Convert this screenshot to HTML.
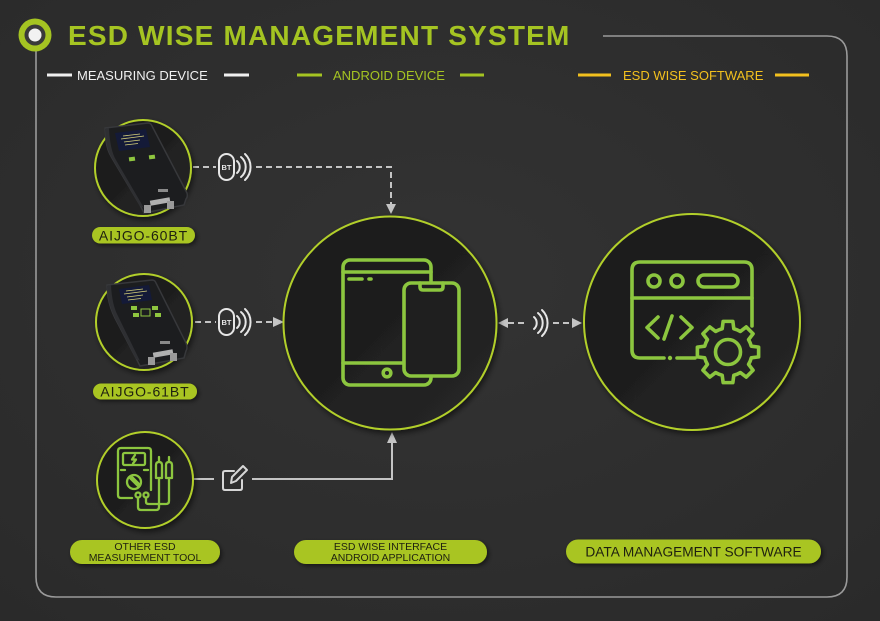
<!DOCTYPE html>
<html><head><meta charset="utf-8"><style>
html,body{margin:0;padding:0;background:#2f2f2f;}
svg{display:block;}
text{font-family:"Liberation Sans",sans-serif;}
</style></head><body>
<svg width="880" height="621" viewBox="0 0 880 621" xmlns="http://www.w3.org/2000/svg">
<defs>
<radialGradient id="bg" cx="0.5" cy="0.45" r="0.75">
<stop offset="0" stop-color="#333333"/><stop offset="1" stop-color="#2a2a2a"/>
</radialGradient>
<linearGradient id="cf" x1="0" y1="0" x2="1" y2="1">
<stop offset="0" stop-color="#191919"/><stop offset="0.5" stop-color="#1f1f1f"/><stop offset="1" stop-color="#282828"/>
</linearGradient>
<filter id="sh" x="-30%" y="-30%" width="160%" height="160%">
<feDropShadow dx="2" dy="3" stdDeviation="3" flood-color="#000" flood-opacity="0.55"/>
</filter>
<filter id="psh" x="-10%" y="-40%" width="120%" height="180%">
<feDropShadow dx="2" dy="2" stdDeviation="2" flood-color="#000" flood-opacity="0.5"/>
</filter>
</defs>
<rect width="880" height="621" fill="url(#bg)"/>

<!-- frame -->
<path d="M603,36 L827,36 Q847,36 847,56 L847,577 Q847,597 827,597 L56,597 Q36,597 36,577 L36,50" fill="none" stroke="#9a9a9a" stroke-width="1.6"/>

<!-- logo -->
<circle cx="35" cy="35" r="16.5" fill="#a5c422"/>
<circle cx="35" cy="35" r="10.5" fill="#3a3a3a"/>
<circle cx="35" cy="35" r="6.5" fill="#f2f2f2"/>

<!-- title -->
<text x="68" y="45" font-size="28" font-weight="bold" fill="#a5c422" letter-spacing="1.2">ESD WISE MANAGEMENT SYSTEM</text>

<!-- legend -->
<rect x="47" y="73.5" width="25" height="3" fill="#f0f0f0"/>
<text x="77" y="80" font-size="13" fill="#f0f0f0">MEASURING DEVICE</text>
<rect x="224" y="73.5" width="25" height="3" fill="#f0f0f0"/>
<rect x="297" y="73.5" width="25" height="3" fill="#a5c422"/>
<text x="333" y="80" font-size="13" fill="#a5c422">ANDROID DEVICE</text>
<rect x="460" y="73.5" width="24" height="3" fill="#a5c422"/>
<rect x="578" y="73.5" width="33" height="3" fill="#f2c01e"/>
<text x="623" y="80" font-size="13" fill="#f2c01e">ESD WISE SOFTWARE</text>
<rect x="775" y="73.5" width="34" height="3" fill="#f2c01e"/>

<!-- connectors -->
<g stroke="#c4c4c4" stroke-width="2" fill="none">
<path d="M193,167 L216,167" stroke-dasharray="6 4"/>
<path d="M256,167 L391,167 L391,205" stroke-dasharray="6 4"/>
<path d="M195,322 L216,322" stroke-dasharray="6 4"/>
<path d="M256,322 L275,322" stroke-dasharray="6 4"/>
<path d="M193,479 L214,479"/>
<path d="M252,479 L392,479 L392,442"/>
<path d="M508,323 L527,323" stroke-dasharray="6 4"/>
<path d="M553,323 L573,323" stroke-dasharray="6 4"/>
</g>
<g fill="#c4c4c4">
<polygon points="386,204 396,204 391,214"/>
<polygon points="273,317 273,327 284,322"/>
<polygon points="387,443 397,443 392,432"/>
<polygon points="498,323 508,318 508,328"/>
<polygon points="572,318 572,328 582,323"/>
</g>

<!-- BT icons -->
<g stroke="#e6e6e6" stroke-width="2" fill="none" stroke-linecap="round">
<rect x="219" y="154" width="15" height="26" rx="7.5"/>
<path d="M237,161 A8,8 0 0 1 237,173"/>
<path d="M241,157 A13,13 0 0 1 241,177"/>
<path d="M245,154 A18,18 0 0 1 245,180"/>
<rect x="219" y="309" width="15" height="26" rx="7.5"/>
<path d="M237,316 A8,8 0 0 1 237,328"/>
<path d="M241,312 A13,13 0 0 1 241,332"/>
<path d="M245,309 A18,18 0 0 1 245,335"/>
<!-- middle wifi -->
<path d="M534,317 A8,8 0 0 1 534,329"/>
<path d="M538,313 A13,13 0 0 1 538,333"/>
<path d="M542,310 A18,18 0 0 1 542,336"/>
</g>
<text x="226.5" y="170" font-size="7.5" font-weight="bold" fill="#e6e6e6" text-anchor="middle">BT</text>
<text x="226.5" y="325" font-size="7.5" font-weight="bold" fill="#e6e6e6" text-anchor="middle">BT</text>

<!-- edit icon -->
<g stroke="#d6d6d6" stroke-width="2" fill="none" stroke-linecap="round" stroke-linejoin="round">
<path d="M234,471 L225,471 Q223,471 223,473 L223,488 Q223,490 225,490 L240,490 Q242,490 242,488 L242,480"/>
<path d="M231,483 L232,477 L243,466 L247,470 L236,481 Z"/>
</g>

<!-- node circles -->
<circle cx="143" cy="168" r="48" fill="url(#cf)" stroke="#b2cf2b" stroke-width="2" filter="url(#sh)"/>
<circle cx="144" cy="322" r="48" fill="url(#cf)" stroke="#b2cf2b" stroke-width="2" filter="url(#sh)"/>
<circle cx="145" cy="480" r="48" fill="url(#cf)" stroke="#b2cf2b" stroke-width="2" filter="url(#sh)"/>
<circle cx="390" cy="323" r="106.5" fill="url(#cf)" stroke="#b2cf2b" stroke-width="2" filter="url(#sh)"/>
<circle cx="692" cy="322" r="108" fill="url(#cf)" stroke="#b2cf2b" stroke-width="2" filter="url(#sh)"/>

<!-- device 1 -->
<g>
<path d="M105,128 L148,123 Q151,123 152,126 L187,193 Q188,197 186,199 L184,205 L144,213 L140,205 L112,158 Q107,150 106,140 Z" fill="#1c1d1f" stroke="#37383b" stroke-width="1.5"/>
<path d="M105,129 L109,128 Q110,150 116,160 L144,208 L140,206 L112,158 Q107,150 106,140 Z" fill="#2e2f32"/>
<polygon points="115,133 146,129 150,147 119,151" fill="#141a38"/>
<g stroke="#d8d27a" stroke-width="0.8">
<line x1="123" y1="136" x2="140" y2="134"/>
<line x1="121" y1="139" x2="144" y2="136"/>
<line x1="124" y1="142" x2="140" y2="140"/>
<line x1="125" y1="145" x2="138" y2="143.5"/>
</g>
<rect x="129" y="157" width="6" height="4" fill="#8fc63f" transform="rotate(-8 132 159)"/>
<rect x="149" y="155" width="6" height="4" fill="#8fc63f" transform="rotate(-8 152 157)"/>
<rect x="158" y="189" width="10" height="3" fill="#8a8a8a"/>
<rect x="150" y="199" width="20" height="5" fill="#b0b0b0" transform="rotate(-10 160 201)"/>
<rect x="144" y="205" width="7" height="8" fill="#9a9a9a"/>
<rect x="167" y="201" width="7" height="8" fill="#9a9a9a"/>
</g>

<!-- device 2 -->
<g>
<path d="M107,285 L152,280 Q155,280 156,283 L186,343 Q188,348 186,351 L184,358 L140,366 L136,358 L115,318 Q110,308 108,297 Z" fill="#1c1d1f" stroke="#37383b" stroke-width="1.5"/>
<path d="M107,286 L111,285 Q112,305 118,316 L140,361 L136,359 L115,318 Q110,308 108,297 Z" fill="#2e2f32"/>
<polygon points="119,289 149,285 152,300 122,304" fill="#141a38"/>
<g stroke="#d8d27a" stroke-width="0.8">
<line x1="126" y1="291" x2="143" y2="289"/>
<line x1="124" y1="294" x2="147" y2="291"/>
<line x1="127" y1="297" x2="143" y2="295"/>
<line x1="128" y1="300" x2="141" y2="298.5"/>
</g>
<rect x="131" y="306" width="6" height="4" fill="#8fc63f"/>
<rect x="133" y="313" width="6" height="4" fill="#8fc63f"/>
<rect x="141" y="309" width="9" height="7" fill="none" stroke="#8fc63f" stroke-width="1"/>
<rect x="152" y="306" width="6" height="4" fill="#8fc63f"/>
<rect x="155" y="313" width="6" height="4" fill="#8fc63f"/>
<rect x="160" y="341" width="10" height="3" fill="#8a8a8a"/>
<rect x="153" y="351" width="20" height="5" fill="#b0b0b0" transform="rotate(-10 163 353)"/>
<rect x="148" y="357" width="7" height="8" fill="#9a9a9a"/>
<rect x="170" y="353" width="7" height="8" fill="#9a9a9a"/>
</g>

<!-- multimeter icon -->
<g stroke="#8cc63f" stroke-width="2.3" fill="none" stroke-linecap="round" stroke-linejoin="round">
<path d="M132,498 L121,498 Q118,498 118,495 L118,451 Q118,448 121,448 L148,448 Q151,448 151,451 L151,490"/>
<rect x="123" y="453" width="22" height="12" rx="1.5"/>
<path d="M135,455 L132,459.5 L136,459.5 L133,463.5"/>
<line x1="121" y1="470" x2="125" y2="470"/>
<line x1="144" y1="470" x2="148" y2="470"/>
<circle cx="134" cy="482" r="7"/>
<line x1="130" y1="478" x2="138" y2="486"/>
<line x1="131.5" y1="476.5" x2="139.5" y2="484.5"/>
<circle cx="138" cy="495" r="2.5"/>
<circle cx="146" cy="495" r="2.5"/>
<path d="M138,497.5 L138,507 Q138,510 141,510 L156,510 Q159,510 159,507 L159,478"/>
<path d="M146,497.5 L146,502 Q146,504 149,504 L166,504 Q169,504 169,501 L169,478"/>
<path d="M156,478 L156,465 Q156,462 159,462 Q162,462 162,465 L162,478 Z"/>
<line x1="159" y1="462" x2="159" y2="457"/>
<path d="M166,478 L166,465 Q166,462 169,462 Q172,462 172,465 L172,478 Z"/>
<line x1="169" y1="462" x2="169" y2="457"/>
</g>

<!-- tablet & phone -->
<g stroke="#8cc63f" stroke-width="3.6" fill="none" stroke-linecap="round" stroke-linejoin="round">
<rect x="343" y="260" width="88" height="125" rx="7"/>
<line x1="343" y1="272" x2="431" y2="272"/>
<line x1="343" y1="363" x2="405" y2="363"/>
<circle cx="387" cy="373" r="3.8"/>
<line x1="349" y1="279" x2="362" y2="279"/>
<line x1="369" y1="279" x2="371" y2="279"/>
<rect x="404" y="283" width="55" height="93" rx="7" fill="#1f1f1f"/>
<path d="M420,283 L420,287 Q420,290 423,290 L440,290 Q443,290 443,287 L443,283"/>
</g>

<!-- software icon -->
<g stroke="#8cc63f" stroke-width="3.6" fill="none" stroke-linecap="round" stroke-linejoin="round">
<path d="M752,326 L752,270 Q752,262 744,262 L640,262 Q632,262 632,270 L632,350 Q632,358 640,358 L664,358"/>
<path d="M677,358 L695,358"/>
<line x1="632" y1="298" x2="752" y2="298"/>
<circle cx="654" cy="281" r="6"/>
<circle cx="677" cy="281" r="6"/>
<rect x="698" y="275" width="40" height="12" rx="6"/>
<path d="M658,317 L647,327.5 L658,338"/>
<path d="M672,316 L664,339"/>
<path d="M681,317 L692,327.5 L681,338"/>
<path d="M751.29,346.19 L758.62,347.15 L758.62,356.85 L751.29,357.81 A24,24 0 0 1 748.57,364.36 L753.08,370.22 L746.22,377.08 L740.36,372.57 A24,24 0 0 1 733.81,375.29 L732.85,382.62 L723.15,382.62 L722.19,375.29 A24,24 0 0 1 715.64,372.57 L709.78,377.08 L702.92,370.22 L707.43,364.36 A24,24 0 0 1 704.71,357.81 L697.38,356.85 L697.38,347.15 L704.71,346.19 A24,24 0 0 1 707.43,339.64 L702.92,333.78 L709.78,326.92 L715.64,331.43 A24,24 0 0 1 722.19,328.71 L723.15,321.38 L732.85,321.38 L733.81,328.71 A24,24 0 0 1 740.36,331.43 L746.22,326.92 L753.08,333.78 L748.57,339.64 A24,24 0 0 1 751.29,346.19 Z" fill="#232323"/>
<circle cx="728" cy="352" r="12.5"/>
</g>
<circle cx="670" cy="358" r="2.2" fill="#8cc63f"/>

<!-- labels -->
<g fill="#a9c520" filter="url(#psh)">
<rect x="92" y="227" width="103" height="16.5" rx="8.25"/>
<rect x="93" y="383.5" width="104" height="16" rx="8"/>
<rect x="70" y="540" width="150" height="24" rx="12"/>
<rect x="294" y="540" width="193" height="24" rx="12"/>
<rect x="566" y="539.5" width="255" height="24" rx="12"/>
</g>
<g fill="#1e2010" text-anchor="middle">
<text x="143.5" y="240.5" font-size="14" letter-spacing="0.9">AIJGO-60BT</text>
<text x="145" y="396.5" font-size="14" letter-spacing="0.9">AIJGO-61BT</text>
<text x="145" y="550" font-size="10.5">OTHER ESD</text>
<text x="145" y="561" font-size="10.5">MEASUREMENT TOOL</text>
<text x="390.5" y="550" font-size="10.5">ESD WISE INTERFACE</text>
<text x="390.5" y="561" font-size="10.5">ANDROID APPLICATION</text>
<text x="693.5" y="556.5" font-size="13.7">DATA MANAGEMENT SOFTWARE</text>
</g>
</svg>
</body></html>
